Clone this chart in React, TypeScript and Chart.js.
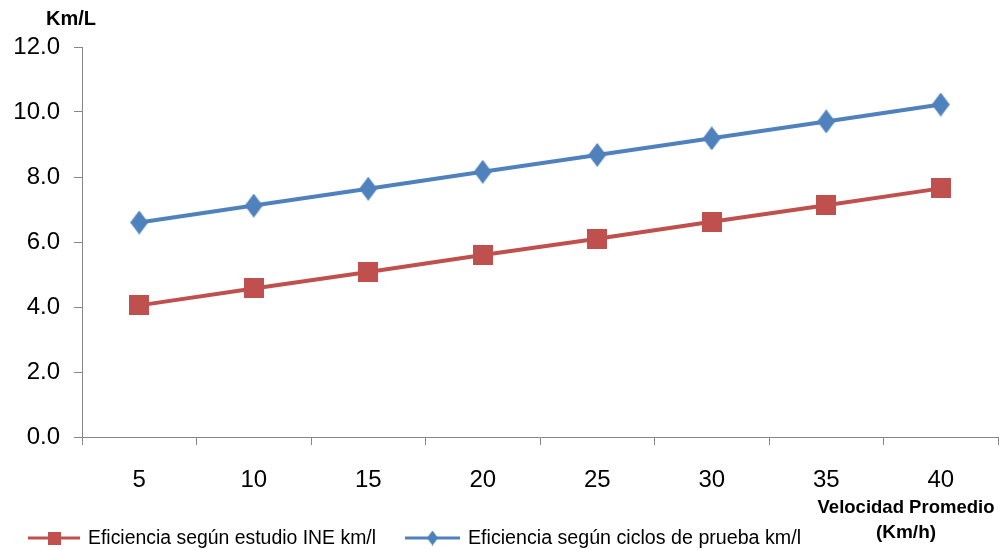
import React, { useEffect, useRef } from "react";
import { Chart, registerables } from "chart.js";

Chart.register(...registerables);

const categories = ["5", "10", "15", "20", "25", "30", "35", "40"];
const ineSeries = [4.05, 4.57, 5.08, 5.6, 6.1, 6.62, 7.13, 7.65];
const cyclesSeries = [6.6, 7.12, 7.64, 8.16, 8.68, 9.19, 9.71, 10.23];
const seriesNames = [
  "Eficiencia según estudio INE km/l",
  "Eficiencia según ciclos de prueba km/l",
];
const yTitle = "Km/L";
const xTitleLines = ["Velocidad Promedio", "(Km/h)"];

const RED = "#C0504D";
const BLUE = "#4F81BD";
const AXIS = "#868686";
const FONT = "'Liberation Sans', Arial, sans-serif";

function makeSquare(size: number, color: string) {
  const c = document.createElement("canvas");
  c.width = size;
  c.height = size;
  const ctx = c.getContext("2d")!;
  ctx.fillStyle = color;
  ctx.fillRect(0, 0, size, size);
  return c;
}

function makeDiamond(w: number, h: number, color: string) {
  const c = document.createElement("canvas");
  c.width = w;
  c.height = h;
  const ctx = c.getContext("2d")!;
  ctx.fillStyle = color;
  ctx.beginPath();
  ctx.moveTo(w / 2, 0);
  ctx.lineTo(w, h / 2);
  ctx.lineTo(w / 2, h);
  ctx.lineTo(0, h / 2);
  ctx.closePath();
  ctx.fill();
  return c;
}

export default function App() {
  const ref = useRef<HTMLCanvasElement>(null);

  useEffect(() => {
    const canvas = ref.current!;
    const square = makeSquare(20, RED);
    const diamond = makeDiamond(18, 24, BLUE);
    const legSquare = makeSquare(13, RED);
    const legDiamond = makeDiamond(11, 15, BLUE);

    const textPlugin = {
      id: "texts",
      afterDraw(chart: any) {
        const ctx = chart.ctx as CanvasRenderingContext2D;
        ctx.save();
        ctx.fillStyle = "#000";
        ctx.textBaseline = "middle";
        ctx.font = `bold 20px ${FONT}`;
        ctx.textAlign = "left";
        ctx.fillText(yTitle, 46, 19, 52);
        ctx.textAlign = "center";
        ctx.font = `bold 19px ${FONT}`;
        ctx.fillText(xTitleLines[0], 906, 508, 177);
        ctx.fillText(xTitleLines[1], 906, 533, 70);

        // legend
        const items = [
          { x0: 28, x1: 80, color: RED, img: legSquare, tx: 88, tw: 288 },
          { x0: 405, x1: 460, color: BLUE, img: legDiamond, tx: 468, tw: 333 },
        ];
        const ly = 538;
        items.forEach((it, i) => {
          ctx.strokeStyle = it.color;
          ctx.lineWidth = 3;
          ctx.beginPath();
          ctx.moveTo(it.x0, ly);
          ctx.lineTo(it.x1, ly);
          ctx.stroke();
          const cx = (it.x0 + it.x1) / 2;
          ctx.drawImage(it.img, cx - it.img.width / 2, ly - it.img.height / 2);
          ctx.fillStyle = "#000";
          ctx.textAlign = "left";
          ctx.font = `20px ${FONT}`;
          ctx.fillText(seriesNames[i], it.tx, ly, it.tw);
        });
        ctx.restore();
      },
    };

    const chart = new Chart(canvas, {
      type: "line",
      data: {
        labels: categories,
        datasets: [
          {
            label: seriesNames[0],
            data: ineSeries,
            borderColor: RED,
            backgroundColor: RED,
            borderWidth: 4,
            pointStyle: square as any,
            pointRadius: 10,
            tension: 0,
          },
          {
            label: seriesNames[1],
            data: cyclesSeries,
            borderColor: BLUE,
            backgroundColor: BLUE,
            borderWidth: 4,
            pointStyle: diamond as any,
            pointRadius: 10,
            tension: 0,
          },
        ],
      },
      options: {
        responsive: false,
        animation: false,
        layout: { autoPadding: false, padding: { top: 47, right: 2, left: 0, bottom: 0 } },
        plugins: {
          legend: { display: false },
          tooltip: { enabled: false },
          title: { display: false },
        },
        scales: {
          x: {
            offset: true,
            afterFit: (s: any) => {
              s.height = 113;
              s.paddingLeft = 0;
              s.paddingRight = 0;
            },
            grid: {
              offset: true,
              drawOnChartArea: false,
              drawTicks: true,
              tickLength: 8,
              color: AXIS,
            },
            border: { display: true, color: AXIS, width: 1 },
            ticks: {
              color: "#000",
              padding: 21,
              maxRotation: 0,
              font: { family: FONT, size: 24 },
            },
          },
          y: {
            min: 0,
            max: 12,
            afterFit: (s: any) => {
              s.width = 82;
            },
            grid: {
              drawOnChartArea: false,
              drawTicks: true,
              tickLength: 8,
              color: AXIS,
            },
            border: { display: true, color: AXIS, width: 1 },
            ticks: {
              stepSize: 2,
              color: "#000",
              padding: 14,
              font: { family: FONT, size: 24 },
              callback: (v: any) => Number(v).toFixed(1),
            },
          },
        },
      },
      plugins: [textPlugin],
    });
    return () => chart.destroy();
  }, []);

  return (
    <div style={{ position: "absolute", left: 0, top: 0, width: 1000, height: 550, background: "#fff" }}>
      <canvas ref={ref} width={1000} height={550} />
    </div>
  );
}
